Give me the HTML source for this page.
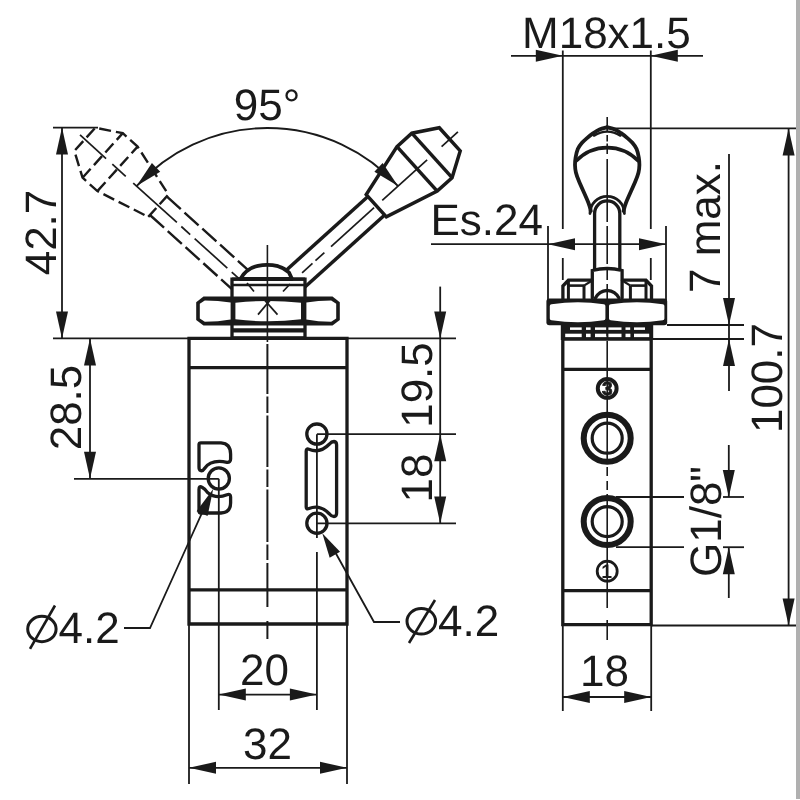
<!DOCTYPE html>
<html lang="en">
<head>
<meta charset="utf-8">
<title>Valve dimensional drawing</title>
<style>
html,body{margin:0;padding:0;background:#fff;}
body{width:800px;height:800px;overflow:hidden;position:relative;font-family:"Liberation Sans",sans-serif;}
svg{position:absolute;left:0;top:0;display:block;filter:grayscale(1);}
svg text{font-family:"Liberation Sans",sans-serif;fill:#1a1a1a;text-rendering:geometricPrecision;}
.edge{position:absolute;left:796px;top:0;width:4px;height:798.5px;background:#b0b0b0;}
</style>
</head>
<body>
<svg width="800" height="800" viewBox="0 0 800 800">
<rect x="0" y="0" width="800" height="800" fill="#ffffff"/>
<g transform="translate(267.3 304.2) rotate(-47.9) translate(0 2.1)">
<line x1="-12.5" y1="-149" x2="-12.5" y2="-30" stroke="#1a1a1a" stroke-width="2.4" stroke-linecap="butt" stroke-dasharray="19 5"/>
<line x1="12.5" y1="-149" x2="12.5" y2="-30" stroke="#1a1a1a" stroke-width="2.4" stroke-linecap="butt" stroke-dasharray="19 5"/>
<path d="M-15,-149 L15,-149 L30,-204 L30,-224 L15.6,-248 L-15.6,-248 L-30,-224 L-30,-204 Z" fill="none" stroke="#1a1a1a" stroke-width="2.4" stroke-linejoin="miter" stroke-linecap="butt" stroke-dasharray="12 5"/>
<line x1="-30" y1="-204" x2="30" y2="-204" stroke="#1a1a1a" stroke-width="2.4" stroke-linecap="butt" stroke-dasharray="12 5"/>
<line x1="-30" y1="-224" x2="30" y2="-224" stroke="#1a1a1a" stroke-width="2.4" stroke-linecap="butt" stroke-dasharray="12 5"/>
<line x1="0" y1="-25" x2="0" y2="-50" stroke="#1a1a1a" stroke-width="1.7" stroke-linecap="butt"/>
<line x1="0" y1="-56" x2="0" y2="-100" stroke="#1a1a1a" stroke-width="1.7" stroke-linecap="butt"/>
<line x1="0" y1="-106" x2="0" y2="-118" stroke="#1a1a1a" stroke-width="1.7" stroke-linecap="butt"/>
<line x1="0" y1="-124" x2="0" y2="-182.8" stroke="#1a1a1a" stroke-width="1.7" stroke-linecap="butt"/>
<line x1="0" y1="-192.9" x2="0" y2="-211" stroke="#1a1a1a" stroke-width="1.7" stroke-linecap="butt"/>
<line x1="0" y1="-219.4" x2="0" y2="-254.5" stroke="#1a1a1a" stroke-width="1.7" stroke-linecap="butt"/>
</g>
<g transform="translate(267.3 304.2) rotate(47.9) translate(0 2.1)">
<line x1="-12.5" y1="-149" x2="-12.5" y2="-30" stroke="#1a1a1a" stroke-width="3.5" stroke-linecap="butt"/>
<line x1="12.5" y1="-149" x2="12.5" y2="-30" stroke="#1a1a1a" stroke-width="3.5" stroke-linecap="butt"/>
<path d="M-15,-149 L15,-149 L30,-204 L30,-224 L15.6,-248 L-15.6,-248 L-30,-224 L-30,-204 Z" fill="none" stroke="#1a1a1a" stroke-width="3.5" stroke-linejoin="miter" stroke-linecap="butt"/>
<line x1="-30" y1="-204" x2="30" y2="-204" stroke="#1a1a1a" stroke-width="3.5" stroke-linecap="butt"/>
<line x1="-30" y1="-224" x2="30" y2="-224" stroke="#1a1a1a" stroke-width="3.5" stroke-linecap="butt"/>
<line x1="0" y1="-22" x2="0" y2="-38" stroke="#1a1a1a" stroke-width="1.7" stroke-linecap="butt"/>
<line x1="0" y1="-49" x2="0" y2="-63" stroke="#1a1a1a" stroke-width="1.7" stroke-linecap="butt"/>
<line x1="0" y1="-67" x2="0" y2="-79" stroke="#1a1a1a" stroke-width="1.7" stroke-linecap="butt"/>
<line x1="0" y1="-88" x2="0" y2="-146" stroke="#1a1a1a" stroke-width="1.7" stroke-linecap="butt"/>
<line x1="0" y1="-157" x2="0" y2="-217.5" stroke="#1a1a1a" stroke-width="1.7" stroke-linecap="butt"/>
<line x1="0" y1="-237" x2="0" y2="-259" stroke="#1a1a1a" stroke-width="1.7" stroke-linecap="butt"/>
</g>
<path d="M232,338 L232,279.2 L305,279.2 L305,338 Z" fill="#fff" stroke="#1a1a1a" stroke-width="3.3" stroke-linejoin="miter" stroke-linecap="round"/>
<path d="M240.5,279 Q246,268.5 258,265.8 Q268,263.8 278,266.2 Q285,268.4 289,272.5 L292,279 Z" fill="#fff" stroke="#1a1a1a" stroke-width="3.8" stroke-linejoin="round" stroke-linecap="round"/>
<line x1="232" y1="279.2" x2="305" y2="279.2" stroke="#1a1a1a" stroke-width="3.3" stroke-linecap="butt"/>
<line x1="232" y1="285" x2="305" y2="285" stroke="#1a1a1a" stroke-width="2.4" stroke-linecap="butt"/>
<line x1="232" y1="330.3" x2="305" y2="330.3" stroke="#1a1a1a" stroke-width="4.2" stroke-linecap="butt"/>
<line x1="247" y1="283" x2="254" y2="291.5" stroke="#1a1a1a" stroke-width="1.7" stroke-linecap="butt"/>
<line x1="290" y1="284" x2="283" y2="291.5" stroke="#1a1a1a" stroke-width="1.7" stroke-linecap="butt"/>
<path d="M203.5,296.6 L332.5,296.6 L339.8,302.2 L339.8,320 L332.5,325.6 L203.5,325.6 L196.2,320 L196.2,302.2 Z" fill="#1a1a1a" stroke="#1a1a1a" stroke-width="0" stroke-linejoin="round" stroke-linecap="round"/>
<path d="M204.8,300.4 Q218,300.4 230.6,302.4 L230.6,319.6 Q218,321.8 204.8,321.8 L199.8,318.4 L199.8,303.8 Z" fill="#fff" stroke="#1a1a1a" stroke-width="0" stroke-linejoin="round" stroke-linecap="round"/>
<path d="M331.2,300.4 Q318,300.4 306.4,302.4 L306.4,319.6 Q318,321.8 331.2,321.8 L336.2,318.4 L336.2,303.8 Z" fill="#fff" stroke="#1a1a1a" stroke-width="0" stroke-linejoin="round" stroke-linecap="round"/>
<path d="M235.4,302.8 Q268.5,299.2 301,302.8 L301,319.2 Q268.5,323.4 235.4,319.2 Z" fill="#fff" stroke="#1a1a1a" stroke-width="0" stroke-linejoin="round" stroke-linecap="round"/>
<path d="M189,338.4 L347,338.4 L347,624 L189,624 Z" fill="none" stroke="#1a1a1a" stroke-width="3.3" stroke-linejoin="miter" stroke-linecap="round"/>
<line x1="189" y1="367.6" x2="347" y2="367.6" stroke="#1a1a1a" stroke-width="3.3" stroke-linecap="butt"/>
<line x1="189" y1="589.8" x2="347" y2="589.8" stroke="#1a1a1a" stroke-width="3.3" stroke-linecap="butt"/>
<line x1="267.4" y1="245" x2="267.4" y2="342" stroke="#1a1a1a" stroke-width="1.6" stroke-linecap="butt"/>
<line x1="267.4" y1="344" x2="267.4" y2="394" stroke="#1a1a1a" stroke-width="2" stroke-linecap="butt"/>
<line x1="267.4" y1="396.5" x2="267.4" y2="413" stroke="#1a1a1a" stroke-width="2" stroke-linecap="butt"/>
<line x1="267.4" y1="415.5" x2="267.4" y2="467" stroke="#1a1a1a" stroke-width="2" stroke-linecap="butt"/>
<line x1="267.4" y1="469.5" x2="267.4" y2="487" stroke="#1a1a1a" stroke-width="2" stroke-linecap="butt"/>
<line x1="267.4" y1="489.5" x2="267.4" y2="542" stroke="#1a1a1a" stroke-width="2" stroke-linecap="butt"/>
<line x1="267.4" y1="544.5" x2="267.4" y2="560" stroke="#1a1a1a" stroke-width="2" stroke-linecap="butt"/>
<line x1="267.4" y1="563" x2="267.4" y2="607" stroke="#1a1a1a" stroke-width="2" stroke-linecap="butt"/>
<line x1="267.4" y1="621" x2="267.4" y2="639" stroke="#1a1a1a" stroke-width="2" stroke-linecap="butt"/>
<line x1="264.2" y1="299.6" x2="277.5" y2="314.6" stroke="#1a1a1a" stroke-width="1.7" stroke-linecap="butt"/>
<line x1="270.6" y1="299.6" x2="258" y2="314.6" stroke="#1a1a1a" stroke-width="1.7" stroke-linecap="butt"/>
<circle cx="218.8" cy="478.5" r="10.6" fill="#fff" stroke="#1a1a1a" stroke-width="3.3"/>
<path d="M199,444.5 Q199,442.8 201,442.8 L221,442.8 Q230.6,443.5 230.6,454 L230.6,459 Q230.6,462.5 227,462.3 Q211,459 204.5,468.5 Q202.5,471.5 200.5,470.5 Q199,470 199,467 Z" fill="none" stroke="#1a1a1a" stroke-width="3.3" stroke-linejoin="round" stroke-linecap="round"/>
<path d="M199,489.5 Q199,485.5 202,487.2 Q205.5,489 207.5,492.5 Q216,499.5 227,494.8 Q230.6,493.5 230.6,497 L230.6,503 Q230.6,512.5 221,513 L201,513 Q199,513 199,511 Z" fill="none" stroke="#1a1a1a" stroke-width="3.3" stroke-linejoin="round" stroke-linecap="round"/>
<circle cx="316.9" cy="434.1" r="10.1" fill="#fff" stroke="#1a1a1a" stroke-width="3.3"/>
<circle cx="316.9" cy="523.3" r="10.1" fill="#fff" stroke="#1a1a1a" stroke-width="3.3"/>
<path d="M306.2,451 Q306.2,448 309,449.3 Q320,453.8 329.5,444 Q331.5,441.5 334,441.5 Q336.6,441.8 336.6,445 L336.6,513 Q336.6,516.5 334,516.5 Q331.5,516.5 329.5,514 Q320,504 309,508.5 Q306.2,509.6 306.2,507 Z" fill="none" stroke="#1a1a1a" stroke-width="3.3" stroke-linejoin="round" stroke-linecap="round"/>
<line x1="53" y1="338.4" x2="189" y2="338.4" stroke="#1a1a1a" stroke-width="1.8" stroke-linecap="butt"/>
<line x1="347" y1="338.4" x2="456" y2="338.4" stroke="#1a1a1a" stroke-width="1.8" stroke-linecap="butt"/>
<line x1="53" y1="127.6" x2="98" y2="127.6" stroke="#1a1a1a" stroke-width="1.8" stroke-linecap="butt"/>
<line x1="62" y1="127.6" x2="62" y2="338.4" stroke="#1a1a1a" stroke-width="1.8" stroke-linecap="butt"/>
<polygon points="62,127.6 68,154.6 56,154.6" fill="#1a1a1a"/>
<polygon points="62,338.4 56,311.4 68,311.4" fill="#1a1a1a"/>
<text x="56" y="232.5" font-size="44" text-anchor="middle" transform="rotate(-90 56 232.5)">42.7</text>
<line x1="90" y1="338.4" x2="90" y2="478.8" stroke="#1a1a1a" stroke-width="1.8" stroke-linecap="butt"/>
<polygon points="90,338.4 96,365.4 84,365.4" fill="#1a1a1a"/>
<polygon points="90,478.8 84,451.8 96,451.8" fill="#1a1a1a"/>
<line x1="74" y1="478.8" x2="218.8" y2="478.8" stroke="#1a1a1a" stroke-width="1.8" stroke-linecap="butt"/>
<text x="81" y="407.5" font-size="44" text-anchor="middle" transform="rotate(-90 81 407.5)">28.5</text>
<line x1="218.8" y1="478.8" x2="218.8" y2="710" stroke="#1a1a1a" stroke-width="1.8" stroke-linecap="butt"/>
<line x1="316.9" y1="434.2" x2="316.9" y2="538" stroke="#1a1a1a" stroke-width="1.8" stroke-linecap="butt"/>
<line x1="316.9" y1="552" x2="316.9" y2="710" stroke="#1a1a1a" stroke-width="1.8" stroke-linecap="butt"/>
<line x1="218.8" y1="694.6" x2="316.9" y2="694.6" stroke="#1a1a1a" stroke-width="1.8" stroke-linecap="butt"/>
<polygon points="218.8,694.6 245.8,688.6 245.8,700.6" fill="#1a1a1a"/>
<polygon points="316.9,694.6 289.9,700.6 289.9,688.6" fill="#1a1a1a"/>
<text x="264.4" y="685.3" font-size="44" text-anchor="middle">20</text>
<line x1="189" y1="624" x2="189" y2="784" stroke="#1a1a1a" stroke-width="1.8" stroke-linecap="butt"/>
<line x1="347" y1="624" x2="347" y2="784" stroke="#1a1a1a" stroke-width="1.8" stroke-linecap="butt"/>
<line x1="189" y1="767.8" x2="347" y2="767.8" stroke="#1a1a1a" stroke-width="1.8" stroke-linecap="butt"/>
<polygon points="189,767.8 216,761.8 216,773.8" fill="#1a1a1a"/>
<polygon points="347,767.8 320,773.8 320,761.8" fill="#1a1a1a"/>
<text x="267.5" y="758.6" font-size="44" text-anchor="middle">32</text>
<line x1="316.9" y1="434.2" x2="456" y2="434.2" stroke="#1a1a1a" stroke-width="1.8" stroke-linecap="butt"/>
<line x1="316.9" y1="523.4" x2="456" y2="523.4" stroke="#1a1a1a" stroke-width="1.8" stroke-linecap="butt"/>
<line x1="440.2" y1="286.6" x2="440.2" y2="523.4" stroke="#1a1a1a" stroke-width="1.8" stroke-linecap="butt"/>
<polygon points="440.2,338.4 434.2,311.4 446.2,311.4" fill="#1a1a1a"/>
<polygon points="440.2,434.2 446.2,461.2 434.2,461.2" fill="#1a1a1a"/>
<polygon points="440.2,523.4 434.2,496.4 446.2,496.4" fill="#1a1a1a"/>
<text x="432" y="385" font-size="44" text-anchor="middle" transform="rotate(-90 432 385)">19.5</text>
<text x="431.8" y="478" font-size="44" text-anchor="middle" transform="rotate(-90 431.8 478)">18</text>
<path d="M124,628 L150,628 L187.5,545 L206,504" fill="none" stroke="#1a1a1a" stroke-width="1.8" stroke-linejoin="miter" stroke-linecap="butt"/>
<polygon points="213.2,489 207.55,516.08 196.62,511.13" fill="#1a1a1a"/>
<ellipse cx="41.9" cy="629" rx="14.2" ry="12.7" fill="none" stroke="#1a1a1a" stroke-width="3"/>
<line x1="30" y1="648.8" x2="55" y2="605.5" stroke="#1a1a1a" stroke-width="2.6" stroke-linecap="butt"/>
<text x="58.6" y="642.5" font-size="44" text-anchor="start">4.2</text>
<path d="M400,622 L374,622 L334,550" fill="none" stroke="#1a1a1a" stroke-width="1.8" stroke-linejoin="miter" stroke-linecap="butt"/>
<polygon points="322.3,533.2 340.06,551.79 329.68,557.83" fill="#1a1a1a"/>
<ellipse cx="421.3" cy="621.3" rx="14.3" ry="12.8" fill="none" stroke="#1a1a1a" stroke-width="3"/>
<line x1="409" y1="643" x2="435" y2="600" stroke="#1a1a1a" stroke-width="2.6" stroke-linecap="butt"/>
<text x="438" y="636" font-size="44" text-anchor="start">4.2</text>
<path d="M136.56,186.07 A176.2,176.2 0 0 1 398.04,186.07" fill="none" stroke="#1a1a1a" stroke-width="1.9" stroke-linejoin="round" stroke-linecap="butt"/>
<polygon points="136.56,186.07 151.94,163.08 160.23,171.75" fill="#1a1a1a"/>
<polygon points="398.04,186.07 374.37,171.75 382.66,163.08" fill="#1a1a1a"/>
<text x="267" y="120" font-size="44" text-anchor="middle">95&#176;</text>
<path d="M607.2,127.3 C605.92,127.65 601.82,128.43 599.5,129.4 C597.18,130.37 595.38,131.65 593.3,133.1 C591.22,134.55 588.88,136.48 587,138.1 C585.12,139.72 583.53,140.98 582,142.8 C580.47,144.62 578.87,146.55 577.8,149 C576.73,151.45 576.07,154.83 575.6,157.5 C575.13,160.17 574.95,162.5 575,165 C575.05,167.5 575.23,169.78 575.9,172.5 C576.57,175.22 576.93,176.3 579,181.3 C581.07,186.3 586.33,197.55 588.3,202.5 C590.27,207.45 590.38,209.58 590.8,211" fill="none" stroke="#1a1a1a" stroke-width="3.8" stroke-linejoin="round" stroke-linecap="round"/>
<path d="M607.2,127.3 C608.48,127.65 612.58,128.43 614.9,129.4 C617.22,130.37 619.02,131.65 621.1,133.1 C623.18,134.55 625.52,136.48 627.4,138.1 C629.28,139.72 630.87,140.98 632.4,142.8 C633.93,144.62 635.53,146.55 636.6,149 C637.67,151.45 638.33,154.83 638.8,157.5 C639.27,160.17 639.45,162.5 639.4,165 C639.35,167.5 639.17,169.78 638.5,172.5 C637.83,175.22 637.47,176.3 635.4,181.3 C633.33,186.3 628.07,197.55 626.1,202.5 C624.13,207.45 624.02,209.58 623.6,211" fill="none" stroke="#1a1a1a" stroke-width="3.8" stroke-linejoin="round" stroke-linecap="round"/>
<path d="M576.6,160.6 A42.5,42.5 0 0 1 637.8,160.6" fill="none" stroke="#1a1a1a" stroke-width="3.6" stroke-linejoin="round" stroke-linecap="round"/>
<path d="M594,135.6 Q607.2,127.6 620.4,135.6" fill="none" stroke="#1a1a1a" stroke-width="2.4" stroke-linejoin="round" stroke-linecap="round"/>
<path d="M590,213.5 A17.2,17.2 0 0 1 624.4,213.5" fill="none" stroke="#1a1a1a" stroke-width="2.8" stroke-linejoin="round" stroke-linecap="round"/>
<path d="M594.6,269 L594.6,213.5 A12.6,12.6 0 0 1 619.8,213.5 L619.8,269" fill="#fff" stroke="#1a1a1a" stroke-width="3.3" stroke-linejoin="round" stroke-linecap="round"/>
<path d="M592.3,298 L592.3,270.5 Q607.2,266.5 622.1,270.5 L622.1,298" fill="#fff" stroke="#1a1a1a" stroke-width="3.3" stroke-linejoin="miter" stroke-linecap="round"/>
<path d="M595.4,298 Q599,291.2 607.2,290.4 Q615.4,291.2 619,298" fill="none" stroke="#1a1a1a" stroke-width="3.3" stroke-linejoin="round" stroke-linecap="round"/>
<path d="M562.9,300 L562.9,286 L568.4,280.2 L592,280.2" fill="none" stroke="#1a1a1a" stroke-width="3.3" stroke-linejoin="miter" stroke-linecap="round"/>
<line x1="568.4" y1="280.2" x2="568.4" y2="300" stroke="#1a1a1a" stroke-width="3" stroke-linecap="butt"/>
<line x1="568.4" y1="285.6" x2="584" y2="285.6" stroke="#1a1a1a" stroke-width="2.6" stroke-linecap="butt"/>
<line x1="584" y1="285.6" x2="584" y2="300" stroke="#1a1a1a" stroke-width="3" stroke-linecap="butt"/>
<line x1="584" y1="285.6" x2="591" y2="281.2" stroke="#1a1a1a" stroke-width="2.2" stroke-linecap="butt"/>
<path d="M651.5,300 L651.5,286 L646,280.2 L622.4,280.2" fill="none" stroke="#1a1a1a" stroke-width="3.3" stroke-linejoin="miter" stroke-linecap="round"/>
<line x1="646" y1="280.2" x2="646" y2="300" stroke="#1a1a1a" stroke-width="3" stroke-linecap="butt"/>
<line x1="646" y1="285.6" x2="630.4" y2="285.6" stroke="#1a1a1a" stroke-width="2.6" stroke-linecap="butt"/>
<line x1="630.4" y1="285.6" x2="630.4" y2="300" stroke="#1a1a1a" stroke-width="3" stroke-linecap="butt"/>
<line x1="630.4" y1="285.6" x2="623.4" y2="281.2" stroke="#1a1a1a" stroke-width="2.2" stroke-linecap="butt"/>
<rect x="546.4" y="298.6" width="120.8" height="26.6" rx="3" ry="3" fill="#1a1a1a"/>
<path d="M549.8,306 Q549.8,304.4 551.5,304.2 Q578,300.2 603.8,304.2 Q605.4,304.4 605.4,306 L605.4,318.6 Q605.4,320 603.8,320.3 Q578,324.4 551.5,320.3 Q549.8,320 549.8,318.6 Z" fill="#fff" stroke="#1a1a1a" stroke-width="0" stroke-linejoin="round" stroke-linecap="round"/>
<path d="M609,306 Q609,304.4 610.7,304.2 Q637,300.2 662.8,304.2 Q664.4,304.4 664.4,306 L664.4,318.6 Q664.4,320 662.8,320.3 Q637,324.4 610.7,320.3 Q609,320 609,318.6 Z" fill="#fff" stroke="#1a1a1a" stroke-width="0" stroke-linejoin="round" stroke-linecap="round"/>
<rect x="560.8" y="325" width="92.4" height="15" fill="#1a1a1a"/>
<rect x="570" y="327.4" width="11.7" height="2.5" fill="#fff"/>
<rect x="586" y="327.4" width="4.6" height="2.5" fill="#fff"/>
<rect x="595" y="327.4" width="11.4" height="2.5" fill="#fff"/>
<rect x="608.4" y="327.4" width="13.1" height="2.5" fill="#fff"/>
<rect x="625.5" y="327.4" width="4.7" height="2.5" fill="#fff"/>
<rect x="634" y="327.4" width="11" height="2.5" fill="#fff"/>
<rect x="565.2" y="333.7" width="16.5" height="3.8" fill="#fff"/>
<rect x="586" y="333.7" width="4.6" height="3.8" fill="#fff"/>
<rect x="595" y="333.7" width="11.4" height="3.8" fill="#fff"/>
<rect x="608.4" y="333.7" width="13.1" height="3.8" fill="#fff"/>
<rect x="625.5" y="333.7" width="4.9" height="3.8" fill="#fff"/>
<rect x="634" y="333.7" width="15.2" height="3.8" fill="#fff"/>
<path d="M562.8,339 L651.2,339 L651.2,624.6 L562.8,624.6 Z" fill="none" stroke="#1a1a1a" stroke-width="3.3" stroke-linejoin="miter" stroke-linecap="round"/>
<line x1="562.8" y1="369.4" x2="651.2" y2="369.4" stroke="#1a1a1a" stroke-width="3.3" stroke-linecap="butt"/>
<line x1="562.8" y1="590.6" x2="651.2" y2="590.6" stroke="#1a1a1a" stroke-width="3.3" stroke-linecap="butt"/>
<circle cx="607.2" cy="438.2" r="23.5" fill="#fff" stroke="#1a1a1a" stroke-width="6"/>
<circle cx="607.2" cy="438.2" r="15" fill="none" stroke="#1a1a1a" stroke-width="3.2"/>
<circle cx="607.2" cy="521.6" r="23.5" fill="#fff" stroke="#1a1a1a" stroke-width="6"/>
<circle cx="607.2" cy="521.6" r="15" fill="none" stroke="#1a1a1a" stroke-width="3.2"/>
<circle cx="607.2" cy="388.4" r="9.4" fill="#fff" stroke="#1a1a1a" stroke-width="4"/>
<text x="607.2" y="395.2" font-size="19" text-anchor="middle" font-weight="bold" stroke="#1a1a1a" stroke-width="0.8">3</text>
<circle cx="607.2" cy="571.2" r="10" fill="#fff" stroke="#1a1a1a" stroke-width="2.8"/>
<text x="606.6" y="578.2" font-size="19.5" text-anchor="middle" font-weight="bold">1</text>
<line x1="607.2" y1="117" x2="607.2" y2="132" stroke="#1a1a1a" stroke-width="1.6" stroke-linecap="butt"/>
<line x1="607.2" y1="135" x2="607.2" y2="141.5" stroke="#1a1a1a" stroke-width="1.6" stroke-linecap="butt"/>
<line x1="607.2" y1="143.5" x2="607.2" y2="154" stroke="#1a1a1a" stroke-width="1.6" stroke-linecap="butt"/>
<line x1="607.2" y1="159" x2="607.2" y2="222" stroke="#1a1a1a" stroke-width="1.6" stroke-linecap="butt"/>
<line x1="607.2" y1="226" x2="607.2" y2="264" stroke="#1a1a1a" stroke-width="1.6" stroke-linecap="butt"/>
<line x1="607.2" y1="268" x2="607.2" y2="280" stroke="#1a1a1a" stroke-width="1.6" stroke-linecap="butt"/>
<line x1="607.2" y1="284" x2="607.2" y2="336" stroke="#1a1a1a" stroke-width="1.6" stroke-linecap="butt"/>
<line x1="607.2" y1="341" x2="607.2" y2="463" stroke="#1a1a1a" stroke-width="1.6" stroke-linecap="butt"/>
<line x1="607.2" y1="467" x2="607.2" y2="476" stroke="#1a1a1a" stroke-width="1.6" stroke-linecap="butt"/>
<line x1="607.2" y1="481" x2="607.2" y2="490" stroke="#1a1a1a" stroke-width="1.6" stroke-linecap="butt"/>
<line x1="607.2" y1="494" x2="607.2" y2="608" stroke="#1a1a1a" stroke-width="1.6" stroke-linecap="butt"/>
<line x1="607.2" y1="620" x2="607.2" y2="640" stroke="#1a1a1a" stroke-width="1.6" stroke-linecap="butt"/>
<line x1="511" y1="55.8" x2="703" y2="55.8" stroke="#1a1a1a" stroke-width="1.8" stroke-linecap="butt"/>
<polygon points="562.8,55.8 535.8,61.8 535.8,49.8" fill="#1a1a1a"/>
<polygon points="650.8,55.8 677.8,49.8 677.8,61.8" fill="#1a1a1a"/>
<line x1="562.8" y1="50.5" x2="562.8" y2="229" stroke="#1a1a1a" stroke-width="1.8" stroke-linecap="butt"/>
<line x1="562.8" y1="258" x2="562.8" y2="280" stroke="#1a1a1a" stroke-width="1.8" stroke-linecap="butt"/>
<line x1="650.8" y1="50.5" x2="650.8" y2="229" stroke="#1a1a1a" stroke-width="1.8" stroke-linecap="butt"/>
<line x1="650.8" y1="258" x2="650.8" y2="280" stroke="#1a1a1a" stroke-width="1.8" stroke-linecap="butt"/>
<text x="606.4" y="47.6" font-size="44" text-anchor="middle">M18x1.5</text>
<line x1="431" y1="244.2" x2="666" y2="244.2" stroke="#1a1a1a" stroke-width="1.8" stroke-linecap="butt"/>
<polygon points="548,244.2 575,238.2 575,250.2" fill="#1a1a1a"/>
<polygon points="666,244.2 639,250.2 639,238.2" fill="#1a1a1a"/>
<line x1="548" y1="226" x2="548" y2="300" stroke="#1a1a1a" stroke-width="1.8" stroke-linecap="butt"/>
<line x1="666" y1="226" x2="666" y2="300" stroke="#1a1a1a" stroke-width="1.8" stroke-linecap="butt"/>
<text x="430.4" y="235.3" font-size="44" text-anchor="start">Es.24</text>
<line x1="607.2" y1="128.4" x2="796" y2="128.4" stroke="#1a1a1a" stroke-width="1.8" stroke-linecap="butt"/>
<line x1="651.2" y1="625.5" x2="796" y2="625.5" stroke="#1a1a1a" stroke-width="1.8" stroke-linecap="butt"/>
<line x1="788.6" y1="128.4" x2="788.6" y2="625.5" stroke="#1a1a1a" stroke-width="1.8" stroke-linecap="butt"/>
<polygon points="788.6,128.4 794.6,155.4 782.6,155.4" fill="#1a1a1a"/>
<polygon points="788.6,625.5 782.6,598.5 794.6,598.5" fill="#1a1a1a"/>
<text x="781.6" y="378" font-size="44" text-anchor="middle" transform="rotate(-90 781.6 378)">100.7</text>
<line x1="667" y1="325" x2="744" y2="325" stroke="#1a1a1a" stroke-width="1.8" stroke-linecap="butt"/>
<line x1="651.2" y1="339" x2="744" y2="339" stroke="#1a1a1a" stroke-width="1.8" stroke-linecap="butt"/>
<line x1="729" y1="154" x2="729" y2="391" stroke="#1a1a1a" stroke-width="1.8" stroke-linecap="butt"/>
<polygon points="729,325 723,298 735,298" fill="#1a1a1a"/>
<polygon points="729,339 735,366 723,366" fill="#1a1a1a"/>
<text x="720.4" y="227" font-size="44" text-anchor="middle" transform="rotate(-90 720.4 227)">7 max.</text>
<line x1="616" y1="497" x2="684" y2="497" stroke="#1a1a1a" stroke-width="1.8" stroke-linecap="butt"/>
<line x1="616" y1="547.2" x2="684" y2="547.2" stroke="#1a1a1a" stroke-width="1.8" stroke-linecap="butt"/>
<line x1="723" y1="497" x2="744" y2="497" stroke="#1a1a1a" stroke-width="1.8" stroke-linecap="butt"/>
<line x1="723" y1="547.2" x2="744" y2="547.2" stroke="#1a1a1a" stroke-width="1.8" stroke-linecap="butt"/>
<line x1="728.8" y1="445" x2="728.8" y2="497" stroke="#1a1a1a" stroke-width="1.8" stroke-linecap="butt"/>
<line x1="728.8" y1="547.2" x2="728.8" y2="598" stroke="#1a1a1a" stroke-width="1.8" stroke-linecap="butt"/>
<polygon points="728.8,497 722.8,470 734.8,470" fill="#1a1a1a"/>
<polygon points="728.8,547.2 734.8,574.2 722.8,574.2" fill="#1a1a1a"/>
<text x="720.8" y="521.5" font-size="44" text-anchor="middle" transform="rotate(-90 720.8 521.5)">G1/8&quot;</text>
<line x1="562.8" y1="624.6" x2="562.8" y2="711" stroke="#1a1a1a" stroke-width="1.8" stroke-linecap="butt"/>
<line x1="651.2" y1="624.6" x2="651.2" y2="711" stroke="#1a1a1a" stroke-width="1.8" stroke-linecap="butt"/>
<line x1="562.8" y1="697" x2="651.2" y2="697" stroke="#1a1a1a" stroke-width="1.8" stroke-linecap="butt"/>
<polygon points="562.8,697 589.8,691 589.8,703" fill="#1a1a1a"/>
<polygon points="651.2,697 624.2,703 624.2,691" fill="#1a1a1a"/>
<text x="604.4" y="686" font-size="44" text-anchor="middle">18</text>
</svg>
<div class="edge"></div>
</body>
</html>
